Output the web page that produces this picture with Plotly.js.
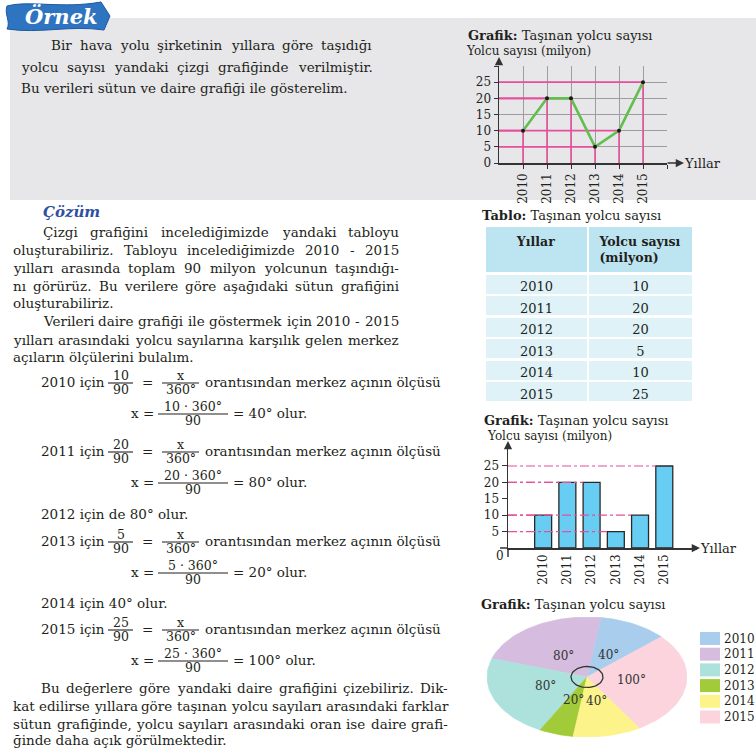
<!DOCTYPE html>
<html><head><meta charset="utf-8">
<script src="https://cdn.plot.ly/plotly-3.0.1.min.js"></script>
<style>html,body{margin:0;padding:0;background:#fff;overflow:hidden}</style>
</head><body><div id="chart" style="width:756px;height:749px"></div>
<script>
// ---------- data ----------
const years = [2010, 2011, 2012, 2013, 2014, 2015];
const passengers = [10, 20, 20, 5, 10, 25];          // milyon
const yTickVals = [0, 5, 10, 15, 20, 25];
const sliceColors = ['#a9cdec', '#d6bddf', '#ace1dc', '#a2cb3a', '#fcf48a', '#fbd4dd'];
const tableHeader = ['Yıllar', 'Yolcu sayısı', '(milyon)'];

const total = passengers.reduce((a, b) => a + b, 0);
const angles = passengers.map(v => v * 360 / total);

// ---------- helpers ----------
const W = 756, H = 749;
const SERIF = '"DejaVu Serif", serif';
const INK = '#231f20';
const PINK = '#e4509c';
const BODY = 13.5;
const FR = 12.5;
const ann = [], shapes = [], traces = [];
const cctx = document.createElement('canvas').getContext('2d');
function tw(s, size) { cctx.font = size + 'px "DejaVu Serif"'; return cctx.measureText(s).width; }
function T(x, y, text, o) {
  o = o || {};
  const f = Object.assign({family: SERIF, size: BODY, color: INK}, o.font || {});
  const a = Object.assign({xref: 'x', yref: 'y', x: x, y: y, text: text, showarrow: false,
    xanchor: 'left', yanchor: 'middle', borderpad: 0}, o);
  a.font = f; ann.push(a);
}
// justified line: words spread between x0 and x1 (font shrinks a little if the line is too long)
function J(x0, x1, y, line, size) {
  const words = line.split(' ');
  const target = x1 - x0;
  let s = size;
  let ws = words.map(w => tw(w, s));
  let natural = ws.reduce((a, b) => a + b, 0) + (words.length - 1) * tw(' ', s);
  if (natural > target) { s = s * target / natural; ws = words.map(w => tw(w, s)); }
  const sum = ws.reduce((a, b) => a + b, 0);
  const gap = words.length > 1 ? (target - sum) / (words.length - 1) : 0;
  let x = x0;
  words.forEach((w, i) => { T(x, y, w, {font: {size: s}}); x += ws[i] + gap; });
}
function hline(x0, x1, y, w) {
  shapes.push({type: 'line', xref: 'x', yref: 'y', x0: x0, x1: x1, y0: y, y1: y, line: {color: INK, width: w || 1.1}});
}
function frac(cx, y, num, den, half) {
  T(cx, y - 8, num, {xanchor: 'center', font: {size: FR}});
  T(cx, y + 6.5, den, {xanchor: 'center', font: {size: FR}});
  hline(cx - half, cx + half, y, 1.1);
}
function arrow(x, y, ax, ay) {
  ann.push({xref: 'x', yref: 'y', x: x, y: y, ax: ax, ay: ay, text: '', showarrow: true,
    arrowhead: 2, arrowsize: 1.1, arrowwidth: 1.5, arrowcolor: '#333'});
}

// ---------- page background pieces ----------
shapes.push({type: 'rect', xref: 'paper', yref: 'paper', x0: 10 / W, x1: 1, y0: 1 - 200 / H, y1: 1 - 18 / H,
  fillcolor: '#e7e7e9', line: {width: 0}, layer: 'below'});
shapes.push({type: 'path', xref: 'x', yref: 'y',
  path: 'M 7 6 C 30 0, 62 9, 101 2 L 110 16 L 104 30 C 70 25, 40 34, 7 29 C 11 22, 4 14, 7 6 Z',
  fillcolor: '#2f74c0', line: {color: '#1d5aa3', width: 1}});
T(61, 16, '<b><i>Örnek</i></b>', {xanchor: 'center', font: {size: 21, color: '#ffffff'}});

// Top box text
J(50, 371, 45, 'Bir hava yolu şirketinin yıllara göre taşıdığı', BODY);
J(20, 371, 67, 'yolcu sayısı yandaki çizgi grafiğinde verilmiştir.', BODY);
T(20, 88, 'Bu verileri sütun ve daire grafiği ile gösterelim.');

// Çözüm
T(42, 212, '<b><i>Çözüm</i></b>', {font: {size: 15, color: '#2f4fa2'}});
J(42, 398, 232, 'Çizgi grafiğini incelediğimizde yandaki tabloyu', BODY);
J(12, 398, 250, 'oluşturabiliriz. Tabloyu incelediğimizde 2010 - 2015', BODY);
J(12, 398, 268, 'yılları arasında toplam ' + total + ' milyon yolcunun taşındığı-', BODY);
J(12, 398, 286, 'nı görürüz. Bu verilere göre aşağıdaki sütun grafiğini', BODY);
T(12, 303, 'oluşturabiliriz.');
J(42, 398, 321, 'Verileri daire grafiği ile göstermek için 2010 - 2015', BODY);
J(12, 398, 340, 'yılları arasındaki yolcu sayılarına karşılık gelen merkez', BODY);
T(12, 357, 'açıların ölçülerini bulalım.');

// Equations
const fullRows = {2010: 382, 2011: 451, 2013: 541, 2015: 629};
const shortRows = {2012: [514, ' için de '], 2014: [603, ' için ']};
years.forEach((yr, i) => {
  const v = passengers[i], ang = Math.round(angles[i]);
  if (fullRows[yr] !== undefined) {
    const y = fullRows[yr];
    T(40, y, yr + ' için');
    frac(120.5, y + 1, String(v), String(total), 12.5);
    T(147, y, '=', {xanchor: 'center'});
    frac(180.5, y + 1, 'x', '360°', 18.5);
    T(204, y, 'orantısından merkez açının ölçüsü');
    const y2 = y + 31;
    T(130, y2, 'x =');
    frac(193, y2 + 1, v + ' · 360°', String(total), 35);
    T(232, y2, '= ' + ang + '° olur.');
  } else {
    const s = shortRows[yr];
    T(40, s[0], yr + s[1] + ang + '° olur.');
  }
});

J(40, 447, 688, 'Bu değerlere göre yandaki daire grafiğini çizebiliriz. Dik-', BODY);
J(12, 447, 706, 'kat edilirse yıllara göre taşınan yolcu sayıları arasındaki farklar', BODY);
J(12, 447, 724, 'sütun grafiğinde, yolcu sayıları arasındaki oran ise daire grafi-', BODY);
T(12, 740, 'ğinde daha açık görülmektedir.');

// ---------- titles ----------
const TT = 13;
T(467, 35, '<b>Grafik:</b> Taşınan yolcu sayısı', {font: {size: TT}});
T(465, 51, 'Yolcu sayısı (milyon)', {font: {size: 12}});
T(683, 163, 'Yıllar', {font: {size: 13}});
T(481, 215, '<b>Tablo:</b> Taşınan yolcu sayısı', {font: {size: TT}});
T(483, 420, '<b>Grafik:</b> Taşınan yolcu sayısı', {font: {size: TT}});
T(486, 436, 'Yolcu sayısı (milyon)', {font: {size: 12}});
T(699, 548, 'Yıllar', {font: {size: 13}});
T(500, 556, '0', {xanchor: 'center', font: {size: 12}});
T(480, 604, '<b>Grafik:</b> Taşınan yolcu sayısı', {font: {size: TT}});

// arrows and axis stubs
arrow(499, 57, 0, 9);
arrow(684, 163, -18, 0);
arrow(508, 441, 0, 8);
arrow(700, 548, -6, 0);
shapes.push({type: 'line', xref: 'x', yref: 'y', x0: 508, x1: 508, y0: 548, y1: 557, line: {color: '#333', width: 1.5}});
shapes.push({type: 'line', xref: 'x', yref: 'y', x0: 500, x1: 508, y0: 548, y1: 548, line: {color: '#333', width: 1.5}});

// ---------- invisible page trace ----------
traces.push({type: 'scatter', x: [null], y: [null], xaxis: 'x', yaxis: 'y', hoverinfo: 'skip', showlegend: false});

// ---------- line chart ----------
const dropX = [], dropY = [];
years.forEach((yr, i) => { dropX.push(yr, yr, 2009, null); dropY.push(0, passengers[i], passengers[i], null); });
traces.push({type: 'scatter', mode: 'lines', x: dropX, y: dropY, xaxis: 'x2', yaxis: 'y2',
  line: {color: PINK, width: 1.6}, hoverinfo: 'skip', showlegend: false, cliponaxis: false});
traces.push({type: 'scatter', mode: 'lines+markers', x: years, y: passengers, xaxis: 'x2', yaxis: 'y2',
  line: {color: '#62be4f', width: 2.6}, marker: {color: '#1a1a1a', size: 4}, showlegend: false, cliponaxis: false});

// ---------- bar chart ----------
const refX = [], refY = [];
years.forEach((yr, i) => { refX.push(2008.55, yr - 0.35, null); refY.push(passengers[i], passengers[i], null); });
traces.push({type: 'scatter', mode: 'lines', x: refX, y: refY, xaxis: 'x3', yaxis: 'y3',
  line: {color: PINK, width: 1.2, dash: 'dashdot'}, hoverinfo: 'skip', showlegend: false});
traces.push({type: 'bar', x: years, y: passengers, xaxis: 'x3', yaxis: 'y3', width: 0.7,
  marker: {color: '#67cdf2', line: {color: '#2a2a2a', width: 1.3}}, showlegend: false});

// ---------- pie (elliptical, counter-clockwise from 48°) ----------
const START = 48;
let cum = START;
years.forEach((yr, i) => {
  const a0 = cum, a1 = cum - angles[i]; cum = a1;
  const xs = [0], ys = [0];
  const n = Math.max(6, Math.ceil(angles[i] / 2));
  for (let k = 0; k <= n; k++) {
    const t = (a0 + (a1 - a0) * k / n) * Math.PI / 180;
    xs.push(Math.sin(t)); ys.push(Math.cos(t));
  }
  xs.push(0); ys.push(0);
  traces.push({type: 'scatter', mode: 'lines', x: xs, y: ys, xaxis: 'x4', yaxis: 'y4', fill: 'toself',
    fillcolor: sliceColors[i], line: {color: sliceColors[i], width: 0.6}, hoverinfo: 'skip', showlegend: false});
  const mid = (a0 + a1) / 2 * Math.PI / 180;
  ann.push({xref: 'x4', yref: 'y4', x: 0.45 * Math.sin(mid), y: 0.41 * Math.cos(mid),
    text: Math.round(angles[i]) + '°', showarrow: false, borderpad: 0,
    font: {family: SERIF, size: 12, color: '#333'}});
  // legend
  const ly = 632 + 15.7 * i;
  shapes.push({type: 'rect', xref: 'x', yref: 'y', x0: 700, x1: 720, y0: ly, y1: ly + 13,
    fillcolor: sliceColors[i], line: {width: 0}});
  T(722.5, ly + 6.5, String(yr), {font: {size: 12}});
});
const cx = [], cy = [];
for (let k = 0; k <= 72; k++) { const t = k * 5 * Math.PI / 180; cx.push(0.16 * Math.sin(t)); cy.push(0.175 * Math.cos(t)); }
traces.push({type: 'scatter', mode: 'lines', x: cx, y: cy, xaxis: 'x4', yaxis: 'y4',
  line: {color: '#333', width: 1.3}, hoverinfo: 'skip', showlegend: false});

// ---------- table ----------
traces.push({type: 'table',
  domain: {x: [485 / W, 693 / W], y: [1 - 405 / H, 1 - 226 / H]},
  columnwidth: [103, 105],
  header: {values: [['<b>' + tableHeader[0] + '</b>'], ['<b>' + tableHeader[1] + '</b><br><b>' + tableHeader[2] + '</b>']],
    fill: {color: '#bde5f1'}, line: {color: '#ffffff', width: 2.5}, height: 36, align: 'center',
    font: {family: SERIF, size: 12.5, color: INK}},
  cells: {values: [years.map(String), passengers.map(String)],
    fill: {color: '#def2f8'}, line: {color: '#ffffff', width: 2.5}, height: 21.5, align: 'center',
    font: {family: SERIF, size: 13, color: INK}}
});

const tickF = {family: SERIF, size: 12, color: INK};
const layout = {
  width: W, height: H, margin: {l: 0, r: 0, t: 0, b: 0}, autosize: false,
  paper_bgcolor: '#ffffff', plot_bgcolor: 'rgba(0,0,0,0)', showlegend: false,
  xaxis: {domain: [0, 1], range: [0, W], visible: false, fixedrange: true, anchor: 'y'},
  yaxis: {domain: [0, 1], range: [H, 0], visible: false, fixedrange: true, anchor: 'x'},
  xaxis2: {domain: [499 / W, 667 / W], range: [2009, 2016], anchor: 'y2',
    tickvals: years.concat([2016]), ticktext: years.map(String).concat(['']), tickangle: -90, tickfont: tickF,
    showgrid: true, gridcolor: '#9d9d9d', gridwidth: 1, showline: true, linecolor: '#333', linewidth: 1.5,
    ticks: 'outside', ticklen: 4, tickcolor: '#333', zeroline: false},
  yaxis2: {domain: [1 - 163 / H, 1 - 66 / H], range: [0, 30], anchor: 'x2',
    tickvals: yTickVals.concat([30]), ticktext: yTickVals.map(String).concat(['']), tickfont: tickF,
    showgrid: true, gridcolor: '#9d9d9d', gridwidth: 1, showline: true, linecolor: '#333', linewidth: 1.5,
    ticks: 'outside', ticklen: 4, tickcolor: '#333', zeroline: false},
  xaxis3: {domain: [508 / W, 697 / W], range: [2008.55, 2016.35], anchor: 'y3',
    tickvals: years, ticktext: years.map(String), tickangle: -90, tickfont: tickF,
    showgrid: false, showline: true, linecolor: '#333', linewidth: 1.5, ticks: '', zeroline: false},
  yaxis3: {domain: [1 - 548 / H, 1 - 445 / H], range: [0, 31.4], anchor: 'x3',
    tickvals: yTickVals.slice(1), ticktext: yTickVals.slice(1).map(String), tickfont: tickF,
    showgrid: false, showline: true, linecolor: '#333', linewidth: 1.5, ticks: 'outside', ticklen: 5,
    tickcolor: '#333', zeroline: false},
  xaxis4: {domain: [487 / W, 687 / W], range: [-1, 1], visible: false, anchor: 'y4'},
  yaxis4: {domain: [1 - 737 / H, 1 - 617 / H], range: [-1, 1], visible: false, anchor: 'x4'},
  shapes: shapes, annotations: ann
};
Plotly.newPlot('chart', traces, layout, {staticPlot: true, displayModeBar: false});
</script></body></html>
